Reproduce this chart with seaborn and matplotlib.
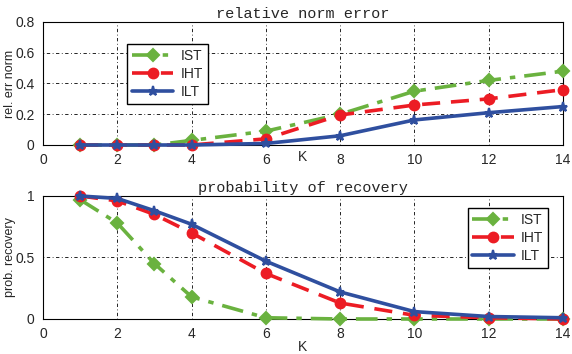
import numpy as np
import pandas as pd
import matplotlib
matplotlib.use('Agg')
import matplotlib.pyplot as plt
import seaborn as sns

# K values and results
K = [1, 2, 3, 4, 6, 8, 10, 12, 14]
err_ist = [0.0, 0.0, 0.0, 0.03, 0.09, 0.2, 0.35, 0.42, 0.48]
err_iht = [0.0, 0.0, 0.0, 0.0, 0.04, 0.195, 0.26, 0.30, 0.36]
err_ilt = [0.0, 0.0, 0.0, 0.0, 0.01, 0.06, 0.163, 0.21, 0.25]
rec_ist = [0.97, 0.78, 0.45, 0.18, 0.01, 0.0, 0.0, 0.0, 0.0]
rec_iht = [1.0, 0.96, 0.85, 0.70, 0.37, 0.13, 0.03, 0.01, 0.0]
rec_ilt = [1.0, 0.98, 0.88, 0.77, 0.47, 0.22, 0.06, 0.02, 0.01]
methods = ['IST', 'IHT', 'ILT']

sns.set_style('white')
plt.rcParams['font.family'] = ['Liberation Sans', 'DejaVu Sans']

colors = {'IST': '#6ab23f', 'IHT': '#ec1c24', 'ILT': '#2f4f9f'}
styles = {'IST': ((0, (6, 2.5, 1.5, 2.5)), 'D', 6),
          'IHT': ((0, (5, 3)), 'o', 7),
          'ILT': ('-', '*', 6.5)}

fig = plt.figure(figsize=(5.72, 3.54), dpi=100)
ax1 = fig.add_axes([0.0752, 0.5904, 0.909, 0.3475])
ax2 = fig.add_axes([0.0752, 0.0989, 0.909, 0.3475])


def draw(ax, series):
    for name, vals in zip(methods, series):
        ls, mk, ms = styles[name]
        df = pd.DataFrame({'K': K, 'v': vals})
        sns.lineplot(data=df, x='K', y='v', ax=ax, color=colors[name],
                     linestyle=ls, marker=mk, markersize=ms, lw=2.6,
                     markeredgecolor=colors[name], markeredgewidth=1.5,
                     label=name, clip_on=False, zorder=3)
    ax.set_xlim(0, 14)
    ax.set_xticks(range(0, 15, 2))
    ax.grid(True, color='black', linestyle=(0, (1, 3, 4, 3)), lw=0.6)
    ax.tick_params(direction='in', length=4, labelsize=10, pad=6)
    for s in ax.spines.values():
        s.set_color('black')
        s.set_linewidth(0.8)


draw(ax1, [err_ist, err_iht, err_ilt])
ax1.set_ylim(0, 0.8)
ax1.set_yticks([0, 0.2, 0.4, 0.6, 0.8])
ax1.set_yticklabels(['0', '0.2', '0.4', '0.6', '0.8'])
ax1.set_xlabel('K', fontsize=10, va='center')
ax1.xaxis.set_label_coords(0.5, -0.098)
ax1.set_ylabel('rel. err norm', fontsize=9, va='center')
ax1.yaxis.set_label_coords(-0.063, 0.5)
ax1.set_title('relative norm error', family='Liberation Mono', fontsize=11, pad=3)
ax1.legend(loc='upper left', bbox_to_anchor=(0.148, 0.88), fontsize=10,
           fancybox=False, edgecolor='black', framealpha=1, handlelength=3,
           borderpad=0.35, labelspacing=0.3, handletextpad=0.5)

draw(ax2, [rec_ist, rec_iht, rec_ilt])
ax2.set_ylim(0, 1)
ax2.set_yticks([0, 0.5, 1])
ax2.set_yticklabels(['0', '0.5', '1'])
ax2.set_xlabel('K', fontsize=10, va='center')
ax2.xaxis.set_label_coords(0.5, -0.225)
ax2.set_ylabel('prob. recovery', fontsize=9, va='center')
ax2.yaxis.set_label_coords(-0.063, 0.5)
ax2.set_title('probability of recovery', family='Liberation Mono', fontsize=11, pad=3)
ax2.legend(loc='upper right', bbox_to_anchor=(0.985, 0.96), fontsize=10,
           fancybox=False, edgecolor='black', framealpha=1, handlelength=3,
           borderpad=0.35, labelspacing=0.3, handletextpad=0.5)

fig.savefig('out.png', dpi=100)
